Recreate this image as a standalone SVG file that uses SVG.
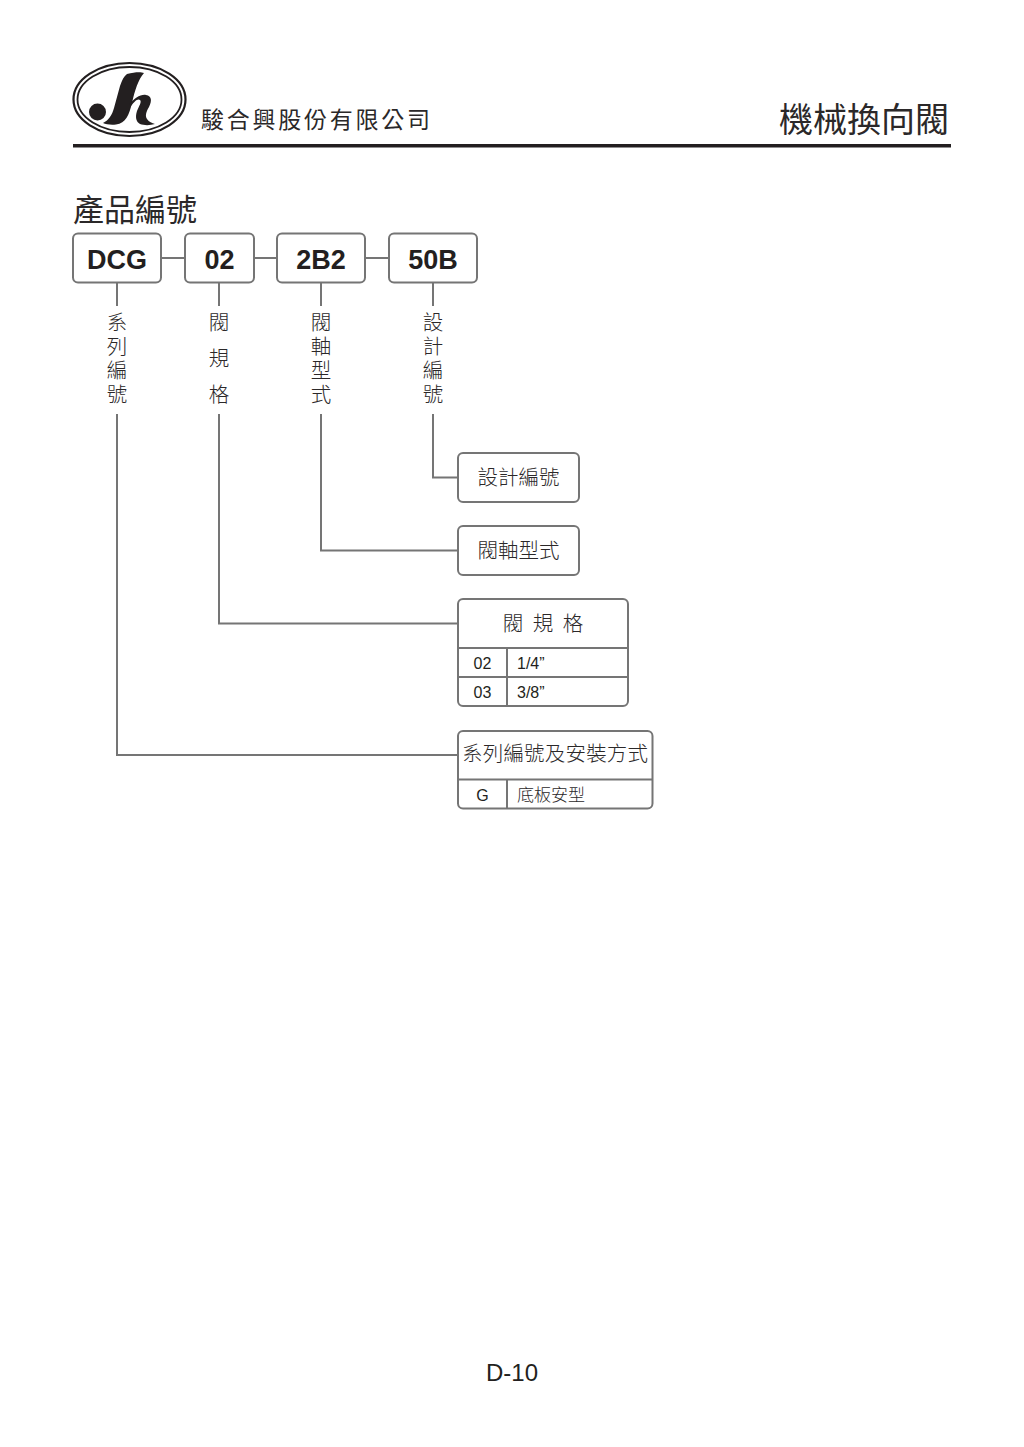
<svg xmlns="http://www.w3.org/2000/svg" width="1024" height="1447" viewBox="0 0 1024 1447">
<style>
.box{fill:#fff;stroke:#757575;stroke-width:2}
.ln{fill:none;stroke:#757575;stroke-width:2}
.cjk{font-family:"Noto Sans CJK TC","Liberation Sans",sans-serif;fill:#2b2829;font-weight:300}
.lat{font-family:"Liberation Sans",Arial,sans-serif;fill:#231f20}
.code{font-family:"Liberation Sans",Arial,sans-serif;font-weight:700;font-size:27px;fill:#231f20;text-anchor:middle}
.v{font-size:20.500px;text-anchor:middle}
.b{font-size:20.500px;text-anchor:middle}
.t{font-size:16px;text-anchor:middle}
.head{font-weight:400}
</style>
<rect width="1024" height="1447" fill="#fff"/>
<g id="logo">
<ellipse cx="129.500" cy="99.500" rx="56" ry="36.500" fill="none" stroke="#231f20" stroke-width="2.200"/>
<ellipse cx="129.500" cy="99.500" rx="52" ry="32.500" fill="none" stroke="#231f20" stroke-width="1.800"/>
<circle cx="97.500" cy="112" r="8.500" fill="#231f20"/>
<path d="M127 74 C135 72 141 72 144 73 C138 80 135 90 132 103 C129 115 126 123 116 124.500 C111 125 106 124.500 103 123 C109 120 112 115 114 108 L120 86 C122 80 124 76 127 74 Z" fill="#231f20"/>
<path d="M129 105 C134 98 141 94 146 95 C152 96 152 101 149 107 C146 112 145 116 147 119 C149 122 152 123 155 124 C150 125.500 144 125.500 140 124 C136 122 135 117 137 111 C139 106 142 102 140 100 C138 98 134 101 129 109 Z" fill="#231f20"/>
<text x="201" y="128" class="cjk" font-size="23" textLength="229" style="font-weight:400">駿合興股份有限公司</text>
</g>
<g id="header">
<text x="949" y="132" class="cjk head" font-size="34" text-anchor="end">機械換向閥</text>
<rect x="73" y="144" width="878" height="3.500" fill="#231f20"/>
<text x="73" y="221" class="cjk head" font-size="31">產品編號</text>
</g>
<g id="connectors">
<path class="ln" d="M161 258H185M254 258H277M365 258H389"/>
<path class="ln" d="M117 282V306M219 282V306M321 282V306M433 282V306"/>
<path class="ln" d="M433 414V477.500H458M321 414V550.500H458M219 414V623.500H458M117 414V755H458"/>
</g>
<g id="n-dcg"><rect class="box" x="73" y="233.500" width="88" height="49" rx="5"/><text class="code" x="117" y="269">DCG</text></g>
<g id="n-02"><rect class="box" x="185" y="233.500" width="69" height="49" rx="5"/><text class="code" x="219.500" y="269">02</text></g>
<g id="n-2b2"><rect class="box" x="277" y="233.500" width="88" height="49" rx="5"/><text class="code" x="321" y="269">2B2</text></g>
<g id="n-50b"><rect class="box" x="389" y="233.500" width="88" height="49" rx="5"/><text class="code" x="433" y="269">50B</text></g>
<g id="label-series"><text class="cjk v"><tspan x="117" y="330">系</tspan><tspan x="117" y="354">列</tspan><tspan x="117" y="378">編</tspan><tspan x="117" y="402">號</tspan></text></g>
<g id="label-size"><text class="cjk v"><tspan x="219" y="330">閥</tspan><tspan x="219" y="366">規</tspan><tspan x="219" y="402">格</tspan></text></g>
<g id="label-spool"><text class="cjk v"><tspan x="321" y="330">閥</tspan><tspan x="321" y="354">軸</tspan><tspan x="321" y="378">型</tspan><tspan x="321" y="402">式</tspan></text></g>
<g id="label-design"><text class="cjk v"><tspan x="433" y="330">設</tspan><tspan x="433" y="354">計</tspan><tspan x="433" y="378">編</tspan><tspan x="433" y="402">號</tspan></text></g>
<g id="n-design"><rect class="box" x="458" y="453" width="121" height="49" rx="5"/><text class="cjk b" x="518.500" y="485">設計編號</text></g>
<g id="n-spool"><rect class="box" x="458" y="526" width="121" height="49" rx="5"/><text class="cjk b" x="518.500" y="558">閥軸型式</text></g>
<g id="n-size">
<rect class="box" x="458" y="599" width="170" height="107" rx="5"/>
<path class="ln" d="M458 648H628M458 677H628M507 648V706"/>
<text class="cjk b" x="543" y="631" word-spacing="5">閥 規 格</text>
<text class="lat t" x="482.500" y="669">02</text><text class="lat" font-size="16" x="517" y="669">1/4”</text>
<text class="lat t" x="482.500" y="698">03</text><text class="lat" font-size="16" x="517" y="698">3/8”</text>
</g>
<g id="n-series">
<rect class="box" x="458" y="731" width="194.500" height="77.500" rx="5"/>
<path class="ln" d="M458 779.500H652.500M507 779.500V808.500"/>
<text class="cjk" font-size="20.500" x="462" y="761" textLength="186">系列編號及安裝方式</text>
<text class="lat t" x="482.500" y="801">G</text>
<text class="cjk" font-size="17" x="517" y="801">底板安型</text>
</g>
<text id="page" class="lat" font-size="24" x="512" y="1381" text-anchor="middle">D-10</text>
</svg>
